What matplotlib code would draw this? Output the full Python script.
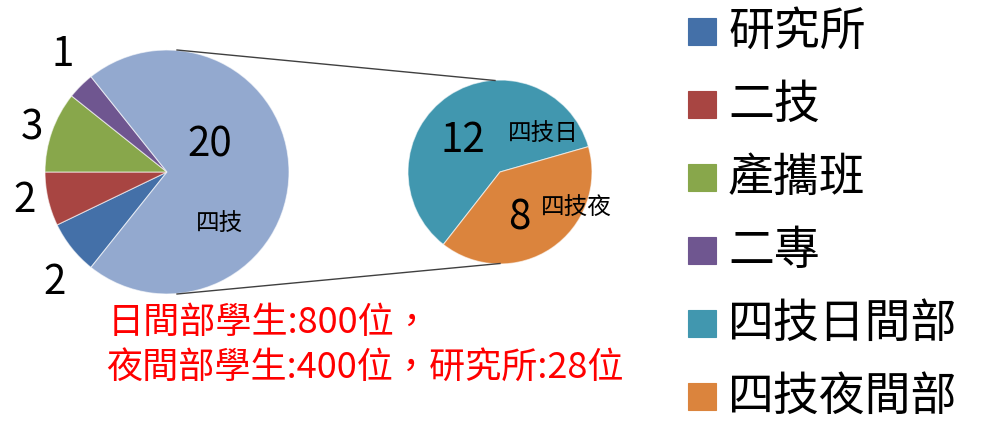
import matplotlib
matplotlib.use("Agg")
import matplotlib.pyplot as plt
from matplotlib.patches import Rectangle

plt.rcParams['font.family'] = ['Noto Sans CJK TC', 'DejaVu Sans']

# ---- data ----
main_labels = ['研究所', '二技', '產攜班', '二專', '四技']
main_values = [2, 2, 3, 1, 20]
main_colors = ['#4470A8', '#A84542', '#88A74B', '#6F5690', '#93A9CF']

sub_labels = ['四技日', '四技夜']
sub_values = [12, 8]
sub_colors = ['#4197AF', '#DB843D']

legend_labels = ['研究所', '二技', '產攜班', '二專', '四技日間部', '四技夜間部']
legend_colors = ['#4470A8', '#A84542', '#88A74B', '#6F5690', '#4197AF', '#DB843D']

note_lines = ['日間部學生:800位，', '夜間部學生:400位，研究所:28位']

W, H = 986, 422
fig = plt.figure(figsize=(W / 100, H / 100), dpi=100)
ax = fig.add_axes([0, 0, 1, 1])

# layout (pixel coordinates, y up)
c1, r1 = (167, 250), 122
c2, r2 = (500, 250), 92

start1 = 180 + sum(main_values[:2]) / sum(main_values) * 360
ax.pie(main_values, colors=main_colors, center=c1, radius=r1,
       startangle=start1, counterclock=False,
       wedgeprops=dict(edgecolor=(1, 1, 1, 0.6), linewidth=0.8))
ax.pie(sub_values, colors=sub_colors, center=c2, radius=r2,
       startangle=232, counterclock=False,
       wedgeprops=dict(edgecolor=(1, 1, 1, 0.6), linewidth=0.8))
ax.set_xlim(0, W)
ax.set_ylim(0, H)
ax.set_aspect('equal', adjustable='box')
ax.axis('off')

# connector lines
ax.plot([c1[0] + 10, c2[0] - 5], [c1[1] + r1, c2[1] + r2 - 0.5], color='#404040', lw=1)
ax.plot([c1[0] + 10, c2[0]], [c1[1] - r1, c2[1] - r2 + 0.5], color='#404040', lw=1)

# value labels of the main pie
outer_pos = [(55, 139), (25, 222), (32, 294), (63, 367)]
for (x, y), v in zip(outer_pos, main_values[:4]):
    ax.text(x, y, str(v), fontsize=29, ha='center', va='center', color='black')
ax.text(210, 277, str(main_values[4]), fontsize=29, ha='center', va='center')
ax.text(220, 199, main_labels[4], fontsize=17, ha='center', va='center')

# labels of the secondary pie
ax.text(463, 282, str(sub_values[0]), fontsize=29, ha='center', va='center')
ax.text(543, 289, sub_labels[0], fontsize=17, ha='center', va='center')
ax.text(519, 204, str(sub_values[1]), fontsize=29, ha='center', va='center')
ax.text(576, 214, sub_labels[1], fontsize=17, ha='center', va='center')

# legend (manual)
for i, (lab, col) in enumerate(zip(legend_labels, legend_colors)):
    yc = H - (31.5 + 73.0 * i)
    ax.add_patch(Rectangle((688, yc - 13.5), 28, 27, facecolor=col,
                           edgecolor=col, linewidth=0.8))
    ax.text(728, yc, lab, fontsize=33, ha='left', va='center', color='black')

# red note
ax.text(108, H - 333, note_lines[0], fontsize=26, ha='left', va='baseline', color='#FF0000')
ax.text(106, H - 378, note_lines[1], fontsize=26, ha='left', va='baseline', color='#FF0000')

fig.savefig('out.png', dpi=100, facecolor='white')
